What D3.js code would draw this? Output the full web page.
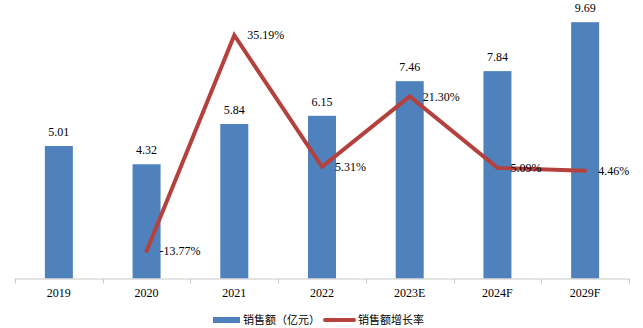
<!DOCTYPE html>
<html>
<head>
<meta charset="utf-8">
<script src="https://cdn.jsdelivr.net/npm/d3@7"></script>
<style>
  html, body { margin: 0; padding: 0; background: #fff; }
  svg { display: block; }
  .num { font-family: "Liberation Serif", "Times New Roman", serif; font-size: 12px; fill: #000; }
  .cjk { font-family: "Noto Sans CJK SC", sans-serif; font-size: 11px; fill: #000; }
</style>
</head>
<body>
<svg id="chart" width="643" height="328"></svg>
<script>
// Sales (100 million yuan) and year-over-year growth
const categories = ["2019", "2020", "2021", "2022", "2023E", "2024F", "2029F"];
const sales = [5.01, 4.32, 5.84, 6.15, 7.46, 7.84, 9.69];
const growth = [null, -13.77, 35.19, 5.31, 21.30, 5.09, 4.46];
const salesLabels = ["5.01", "4.32", "5.84", "6.15", "7.46", "7.84", "9.69"];
const growthLabels = [null, "-13.77%", "35.19%", "5.31%", "21.30%", "5.09%", "4.46%"];
const seriesNames = ["销售额（亿元）", "销售额增长率"];

const barColor = "#4f81bd";
const lineColor = "#b5413e";

const svg = d3.select("#chart");
const left = 15, right = 629, baseY = 278.5, topY = 14;
const barWidth = 28;

const band = d3.scaleBand().domain(categories).range([left, right]);
const center = c => band(c) + band.bandwidth() / 2;
const y = d3.scaleLinear().domain([0, 10]).range([baseY, topY]);
const y2 = d3.scaleLinear().domain([-20, 40]).range([baseY, topY]);

// bars
svg.append("g").selectAll("rect")
  .data(sales)
  .join("rect")
  .attr("x", (d, i) => center(categories[i]) - barWidth / 2)
  .attr("width", barWidth)
  .attr("y", d => y(d))
  .attr("height", d => baseY - y(d))
  .attr("fill", barColor);

// bar value labels
svg.append("g").selectAll("text")
  .data(sales)
  .join("text")
  .attr("class", "num")
  .attr("x", (d, i) => center(categories[i]))
  .attr("y", d => y(d) - 10)
  .attr("text-anchor", "middle")
  .text((d, i) => salesLabels[i]);

// x axis: line with ticks at band edges
const axisG = svg.append("g");
axisG.append("line")
  .attr("x1", left).attr("x2", right)
  .attr("y1", baseY + 0.5).attr("y2", baseY + 0.5)
  .attr("stroke", "#c8c8c8").attr("stroke-width", 1);
const edges = categories.map(c => band(c)).concat([right]);
axisG.selectAll("line.tick")
  .data(edges)
  .join("line")
  .attr("class", "tick")
  .attr("x1", d => Math.round(d) + 0.5).attr("x2", d => Math.round(d) + 0.5)
  .attr("y1", baseY + 0.5).attr("y2", baseY + 5)
  .attr("stroke", "#c8c8c8").attr("stroke-width", 1);
axisG.selectAll("text")
  .data(categories)
  .join("text")
  .attr("class", "num")
  .attr("x", d => center(d))
  .attr("y", 293)
  .attr("dy", "0.35em")
  .attr("text-anchor", "middle")
  .text(d => d);

// growth line
const pts = growth.map((g, i) => ({ g, c: categories[i], label: growthLabels[i] })).filter(p => p.g !== null);
const line = d3.line()
  .x(p => center(p.c))
  .y(p => y2(p.g));
svg.append("path")
  .datum(pts)
  .attr("d", line)
  .attr("fill", "none")
  .attr("stroke", lineColor)
  .attr("stroke-width", 4)
  .attr("stroke-linejoin", "miter")
  .attr("stroke-linecap", "round");

svg.append("g").selectAll("text")
  .data(pts)
  .join("text")
  .attr("class", "num")
  .attr("x", p => center(p.c) + 13)
  .attr("y", p => y2(p.g))
  .attr("dy", "0.35em")
  .text(p => p.label);

// legend
const lg = svg.append("g");
lg.append("rect").attr("x", 213).attr("y", 317).attr("width", 27).attr("height", 6).attr("fill", barColor);
lg.append("text").attr("class", "cjk").attr("x", 243).attr("y", 320).attr("dy", "0.35em").text(seriesNames[0]);
lg.append("line").attr("x1", 325).attr("x2", 354).attr("y1", 320).attr("y2", 320)
  .attr("stroke", lineColor).attr("stroke-width", 4).attr("stroke-linecap", "round");
lg.append("text").attr("class", "cjk").attr("x", 358).attr("y", 320).attr("dy", "0.35em").text(seriesNames[1]);
</script>
</body>
</html>
